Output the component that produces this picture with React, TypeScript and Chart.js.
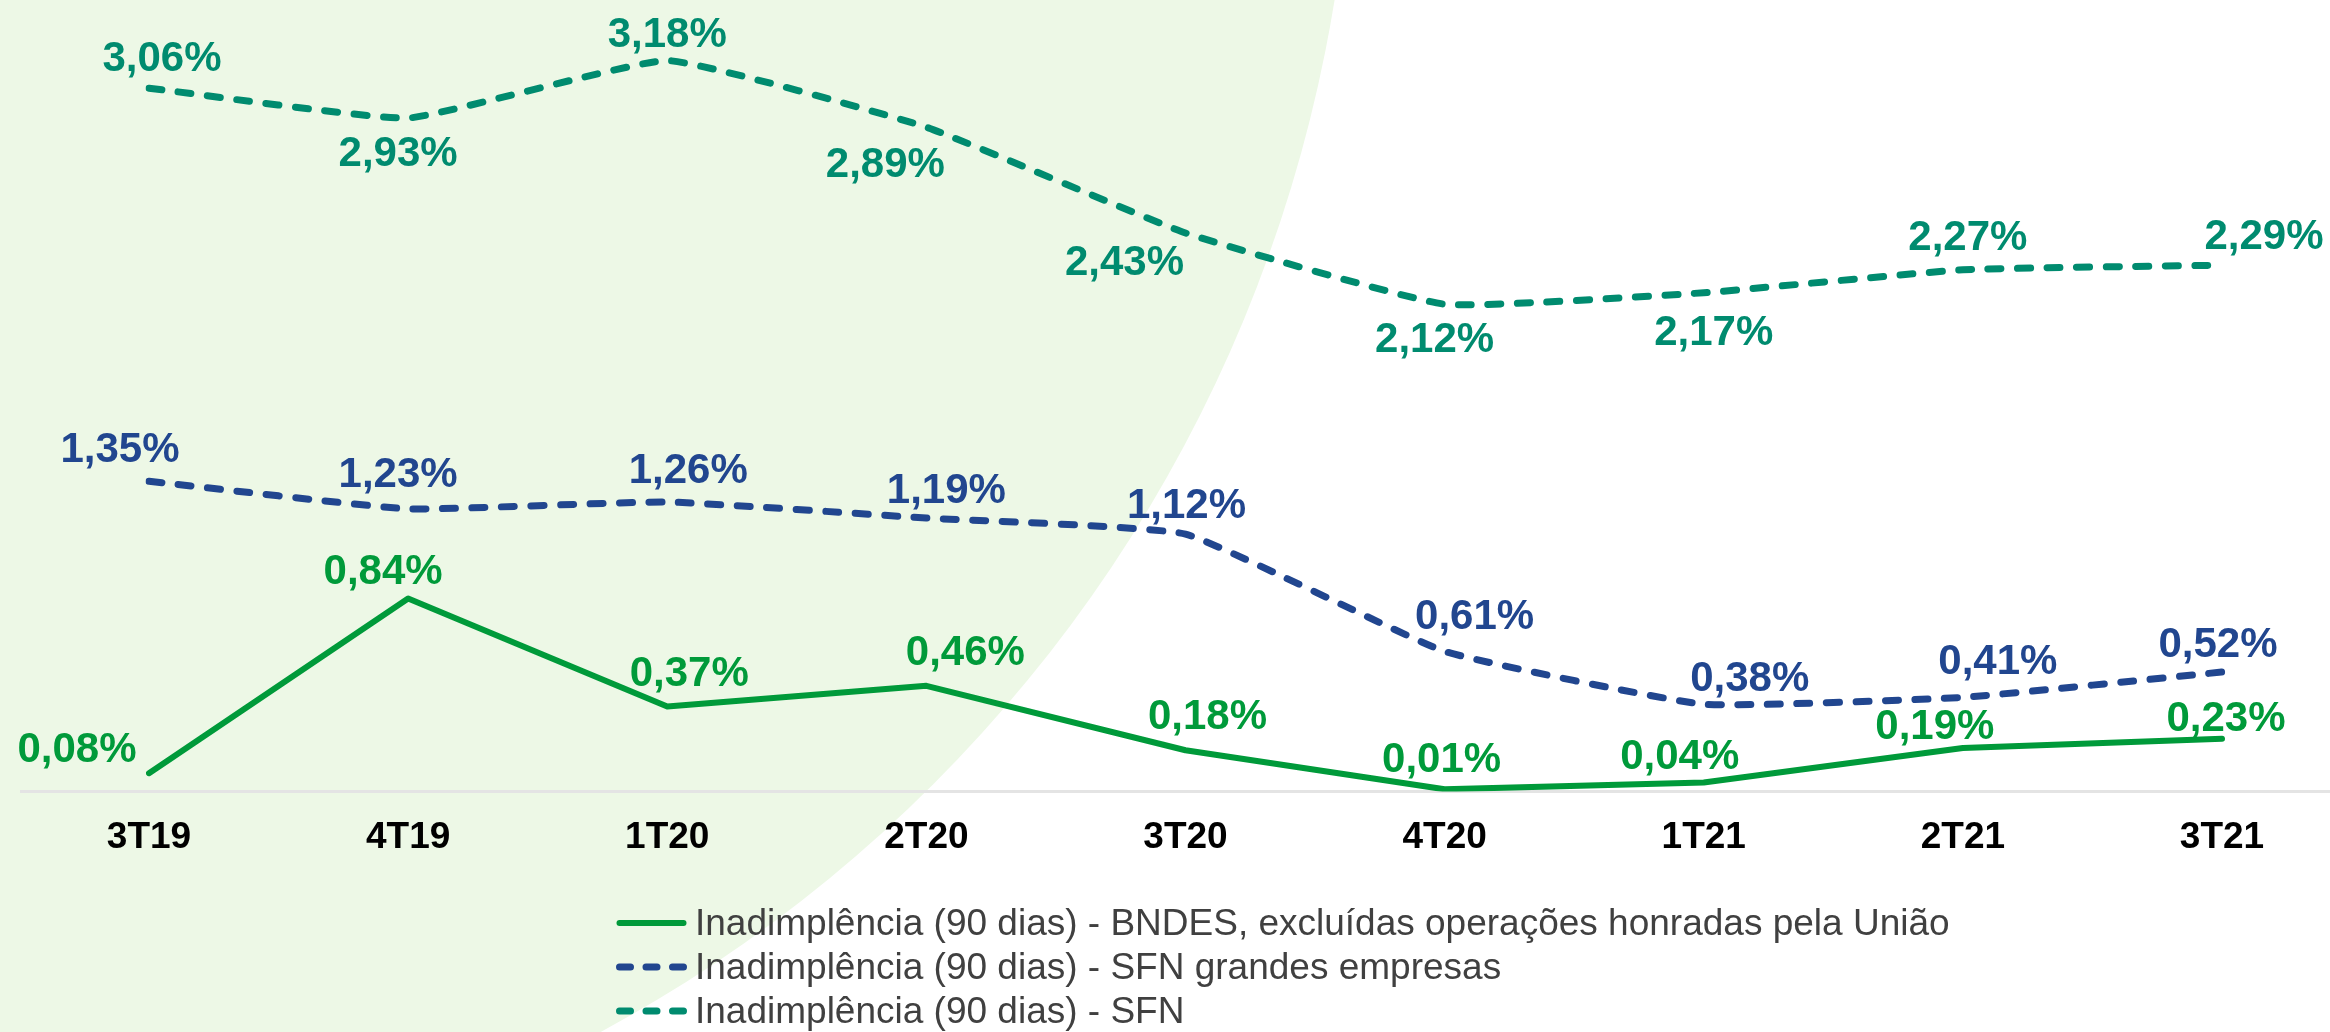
import React, { useEffect, useRef } from "react";
import { Chart, registerables } from "chart.js";

Chart.register(...registerables);

// ---- data ----
const categories = ["3T19", "4T19", "1T20", "2T20", "3T20", "4T20", "1T21", "2T21", "3T21"];
const bndesValues = [0.08, 0.84, 0.37, 0.46, 0.18, 0.01, 0.04, 0.19, 0.23];
const sfnGrandesValues = [1.35, 1.23, 1.26, 1.19, 1.12, 0.61, 0.38, 0.41, 0.52];
const sfnValues = [3.06, 2.93, 3.18, 2.89, 2.43, 2.12, 2.17, 2.27, 2.29];
const seriesLabels = [
  "Inadimplência (90 dias) - BNDES, excluídas operações honradas pela União",
  "Inadimplência (90 dias) - SFN grandes empresas",
  "Inadimplência (90 dias) - SFN",
];

// ---- styling ----
const GREEN = "#009A3A";
const NAVY = "#21468F";
const TEAL = "#008B6F";
const BG_GREEN = "#EDF8E6";
const FONT = "'Liberation Sans', Arial, sans-serif";

// data label offsets (pixels from point), per series
const bndesLabelOffsets = [[-72, -26], [-25, -29], [22, -35], [39, -35], [22, -36], [-3, -32], [-24, -28], [-28, -24], [4, -22]];
const sfnGrandesLabelOffsets = [[-29, -34], [-10, -36], [21, -34], [20, -30], [1, -31], [30, -37], [46, -28], [35, -38], [-4, -30]];
const sfnLabelOffsets = [[13, -32], [-10, 33], [0, -28], [-41, 35], [-61, 27], [-10, 33], [10, 38], [5, -34], [42, -31]];
const labelOffsets = [bndesLabelOffsets, sfnGrandesLabelOffsets, sfnLabelOffsets];
const seriesColors = [GREEN, NAVY, TEAL];
const LABEL_BASELINE_SHIFT = 3;

const fmt = (v: number) => v.toFixed(2).replace(".", ",") + "%";

const decorPlugin = {
  id: "decor",
  beforeDraw(chart: any) {
    const ctx = chart.ctx;
    ctx.save();
    ctx.fillStyle = "#ffffff";
    ctx.fillRect(0, 0, chart.width, chart.height);
    ctx.beginPath();
    ctx.arc(-80, -229, 1433, 0, Math.PI * 2);
    ctx.fillStyle = BG_GREEN;
    ctx.fill();
    ctx.restore();
  },
  beforeDatasetsDraw(chart: any) {
    const ctx = chart.ctx;
    const y = chart.scales.y.getPixelForValue(0);
    ctx.save();
    ctx.strokeStyle = "#E4E4E4";
    ctx.lineWidth = 3;
    ctx.beginPath();
    ctx.moveTo(20, y);
    ctx.lineTo(chart.width, y);
    ctx.stroke();
    ctx.restore();
  },
  afterDatasetsDraw(chart: any) {
    const ctx = chart.ctx;
    ctx.save();
    ctx.font = `bold 42px ${FONT}`;
    ctx.textAlign = "center";
    ctx.textBaseline = "middle";
    chart.data.datasets.forEach((ds: any, di: number) => {
      const meta = chart.getDatasetMeta(di);
      ctx.fillStyle = seriesColors[di];
      meta.data.forEach((pt: any, i: number) => {
        const off = labelOffsets[di][i];
        ctx.fillText(fmt(ds.data[i]), pt.x + off[0], pt.y + off[1] + LABEL_BASELINE_SHIFT);
      });
    });
    ctx.restore();
  },
};

function LegendSample({ color, dashed }: { color: string; dashed: boolean }) {
  return (
    <svg width={71} height={12} style={{ display: "block", flex: "0 0 auto" }}>
      <line
        x1={3.5}
        y1={6}
        x2={67.5}
        y2={6}
        stroke={color}
        strokeWidth={dashed ? 7 : 6}
        strokeLinecap="round"
        strokeDasharray={dashed ? "11 15.5" : undefined}
      />
    </svg>
  );
}

export default function App() {
  const canvasRef = useRef<HTMLCanvasElement | null>(null);

  useEffect(() => {
    document.body.style.margin = "0";
    document.body.style.overflow = "hidden";
    const canvas = canvasRef.current;
    if (!canvas) return;
    const chart = new Chart(canvas, {
      type: "line",
      data: {
        labels: categories,
        datasets: [
          {
            label: seriesLabels[0],
            data: bndesValues,
            borderColor: GREEN,
            backgroundColor: GREEN,
            borderWidth: 6,
            pointRadius: 0,
            tension: 0,
            borderCapStyle: "round",
            borderJoinStyle: "round",
          },
          {
            label: seriesLabels[1],
            data: sfnGrandesValues,
            borderColor: NAVY,
            backgroundColor: NAVY,
            borderWidth: 7,
            pointRadius: 0,
            tension: 0.12,
            borderDash: [13, 16.5],
            borderCapStyle: "round",
            borderJoinStyle: "round",
          },
          {
            label: seriesLabels[2],
            data: sfnValues,
            borderColor: TEAL,
            backgroundColor: TEAL,
            borderWidth: 7,
            pointRadius: 0,
            tension: 0.12,
            borderDash: [13, 16.5],
            borderCapStyle: "round",
            borderJoinStyle: "round",
          },
        ],
      },
      options: {
        animation: false,
        responsive: false,
        maintainAspectRatio: false,
        layout: { padding: { left: 149, right: 108, top: 10, bottom: 148 } },
        scales: {
          x: {
            type: "category",
            offset: false,
            grid: { display: false, drawTicks: false, tickLength: 0 },
            border: { display: false },
            ticks: {
              color: "#000000",
              font: { family: FONT, size: 37, weight: "bold" },
              padding: 24,
              autoSkip: false,
              maxRotation: 0,
              minRotation: 0,
            },
          },
          y: { display: false, min: 0, max: 3.4 },
        },
        plugins: {
          legend: { display: false },
          tooltip: { enabled: false },
        },
      },
      plugins: [decorPlugin],
    } as any);
    return () => chart.destroy();
  }, []);

  const legendItems = [
    { color: GREEN, dashed: false, label: seriesLabels[0] },
    { color: NAVY, dashed: true, label: seriesLabels[1] },
    { color: TEAL, dashed: true, label: seriesLabels[2] },
  ];

  return (
    <div style={{ position: "relative", width: 2330, height: 1032, overflow: "hidden" }}>
      <canvas ref={canvasRef} width={2330} height={1032} style={{ display: "block", width: 2330, height: 1032 }} />
      <div style={{ position: "absolute", left: 616, top: 901 }}>
        {legendItems.map((it, i) => (
          <div key={i} style={{ display: "flex", alignItems: "center", height: 44 }}>
            <LegendSample color={it.color} dashed={it.dashed} />
            <span
              style={{
                marginLeft: 8,
                fontFamily: FONT,
                fontSize: 37,
                color: "#404040",
                lineHeight: "44px",
                whiteSpace: "nowrap",
              }}
            >
              {it.label}
            </span>
          </div>
        ))}
      </div>
    </div>
  );
}
